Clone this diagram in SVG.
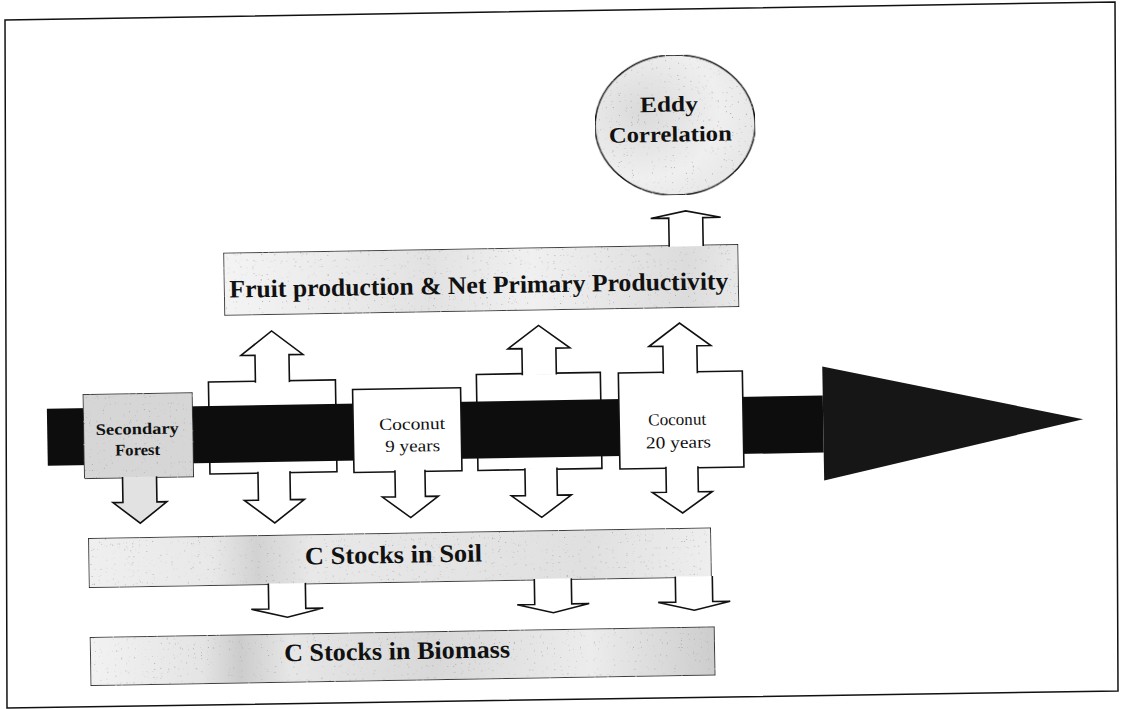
<svg xmlns="http://www.w3.org/2000/svg" width="1124" height="709" viewBox="0 0 1124 709">
<defs>
<style>
.box{stroke:#111;stroke-width:1.6}
.wh{fill:#fff}
.arr{stroke:#111;stroke-width:1.6;stroke-linejoin:miter}
.lbl{font-family:"Liberation Serif","Times New Roman",serif;fill:#111;text-anchor:middle}
.b{font-weight:bold}
</style>
<filter id="speck" x="0" y="0" width="1" height="1">
<feTurbulence type="fractalNoise" baseFrequency="0.85" numOctaves="1" seed="7" result="n"/>
<feColorMatrix in="n" type="matrix" values="0 0 0 0 0.4  0 0 0 0 0.4  0 0 0 0 0.4  14 0 0 0 -9.6" result="dots"/>
<feComposite in="dots" in2="SourceGraphic" operator="in" result="d2"/>
<feMerge><feMergeNode in="SourceGraphic"/><feMergeNode in="d2"/></feMerge>
</filter>
<linearGradient id="gFruit" x1="0" y1="0" x2="1" y2="0">
<stop offset="0" stop-color="#f4f4f4"/><stop offset="0.4" stop-color="#e2e2e2"/><stop offset="0.6" stop-color="#f0f0f0"/><stop offset="0.9" stop-color="#dcdcdc"/><stop offset="1" stop-color="#e8e8e8"/>
</linearGradient>
<linearGradient id="gSoil" x1="0" y1="0" x2="1" y2="0">
<stop offset="0" stop-color="#efefef"/><stop offset="0.2" stop-color="#e8e8e8"/><stop offset="0.27" stop-color="#d2d2d2"/><stop offset="0.36" stop-color="#e8e8e8"/><stop offset="0.8" stop-color="#e0e0e0"/><stop offset="1" stop-color="#eeeeee"/>
</linearGradient>
<linearGradient id="gBio" x1="0" y1="0" x2="1" y2="0">
<stop offset="0" stop-color="#f2f2f2"/><stop offset="0.18" stop-color="#e4e4e4"/><stop offset="0.24" stop-color="#cccccc"/><stop offset="0.32" stop-color="#e6e6e6"/><stop offset="0.55" stop-color="#d8d8d8"/><stop offset="0.8" stop-color="#ececec"/><stop offset="1" stop-color="#cdcdcd"/>
</linearGradient>
<radialGradient id="gEddy" cx="0.3" cy="0.4" r="0.8">
<stop offset="0" stop-color="#dadada"/><stop offset="0.6" stop-color="#efefef"/><stop offset="1" stop-color="#e4e4e4"/>
</radialGradient>
</defs>
<rect x="0" y="0" width="1124" height="709" fill="#fff"/>
<g id="frame"><polygon points="5,20 1115,2 1118,691 7,708" fill="none" stroke="#111" stroke-width="1.5"/></g>
<g transform="rotate(-0.97 562 354)">
<g id="node-stage2"><rect class="box wh" x="208" y="376" width="127" height="92"/></g>
<g id="node-stage4"><rect class="box wh" x="476" y="373" width="124" height="96"/></g>
<g id="timeline"><rect x="46" y="400" width="776" height="57" fill="#0d0d0d"/><polygon points="822,371 1082,428 822,485" fill="#161616"/></g>
<g id="node-secondary-forest"><rect class="box" x="82" y="386" width="110" height="85" fill="#d6d6d6" filter="url(#speck)"/>
<text class="lbl b" x="136" y="427" font-size="16" textLength="83" lengthAdjust="spacingAndGlyphs">Secondary</text>
<text class="lbl b" x="136" y="448" font-size="16" textLength="45" lengthAdjust="spacingAndGlyphs">Forest</text></g>
<g id="node-coconut-9"><rect class="box wh" x="352" y="386" width="108" height="83"/>
<text class="lbl" x="411" y="427" font-size="17" textLength="66" lengthAdjust="spacingAndGlyphs">Coconut</text>
<text class="lbl" x="411" y="449" font-size="17" textLength="55" lengthAdjust="spacingAndGlyphs">9 years</text></g>
<g id="node-coconut-20"><rect class="box wh" x="618" y="374" width="124" height="96"/>
<text class="lbl" x="676" y="427" font-size="17" textLength="58" lengthAdjust="spacingAndGlyphs">Coconut</text>
<text class="lbl" x="677" y="450" font-size="17" textLength="65" lengthAdjust="spacingAndGlyphs">20 years</text></g>
<g id="node-fruit"><rect class="box" x="225" y="247" width="515" height="63" fill="url(#gFruit)" filter="url(#speck)"/>
<text class="lbl b" x="480" y="292" font-size="25" textLength="499" lengthAdjust="spacingAndGlyphs">Fruit production &amp; Net Primary Productivity</text></g>
<g id="node-eddy"><ellipse class="box" cx="679" cy="127" rx="80" ry="70" fill="url(#gEddy)" filter="url(#speck)"/>
<text class="lbl b" x="673" y="113.5" font-size="22" textLength="58" lengthAdjust="spacingAndGlyphs">Eddy</text>
<text class="lbl b" x="674" y="143.5" font-size="22" textLength="123" lengthAdjust="spacingAndGlyphs">Correlation</text></g>
<g id="node-soil"><rect class="box" x="85" y="530" width="623" height="50" fill="url(#gSoil)" filter="url(#speck)"/>
<text class="lbl b" x="390" y="560" font-size="25" textLength="177" lengthAdjust="spacingAndGlyphs">C Stocks in Soil</text></g>
<g id="node-biomass"><rect class="box" x="85" y="629" width="625" height="49" fill="url(#gBio)" filter="url(#speck)"/>
<text class="lbl b" x="392" y="656.5" font-size="25" textLength="226" lengthAdjust="spacingAndGlyphs">C Stocks in Biomass</text></g>
<g id="connectors">
<path class="arr wh" d="M255,377.5 V350 H241 L272,326 L303,350 H289 V377.5"/>
<path class="arr wh" d="M256,466.5 V495 H242 L272,518 L302,495 H288 V466.5"/>
<path class="arr wh" d="M522,374.5 V348 H508 L539,325 L570,348 H556 V374.5"/>
<path class="arr wh" d="M523,467.5 V495 H509 L539,517 L569,495 H555 V467.5"/>
<path class="arr wh" d="M663,375.5 V348 H649 L680,325 L711,348 H697 V375.5"/>
<path class="arr wh" d="M664,468.5 V494 H650 L680,515 L710,494 H696 V468.5"/>
<path class="arr wh" d="M393,467.5 V494 H380 L408,515 L436,494 H423 V467.5"/>
<path class="arr" fill="#e2e2e2" d="M120.5,469.5 V495 H110.5 L137.5,516 L164.5,495 H154.5 V469.5"/>
<path class="arr wh" d="M671,248.5 V220 H653 L688,213 L723,220 H705 V248.5"/>
<path class="arr wh" d="M264.5,578.5 V604 H247 L283,612.5 L319,604 H301.5 V578.5"/>
<path class="arr wh" d="M530.5,578.5 V604 H513 L549,612.5 L585,604 H567.5 V578.5"/>
<path class="arr wh" d="M671.5,578.5 V604 H654 L690,612.5 L726,604 H708.5 V578.5"/>
</g>
</g>
</svg>
